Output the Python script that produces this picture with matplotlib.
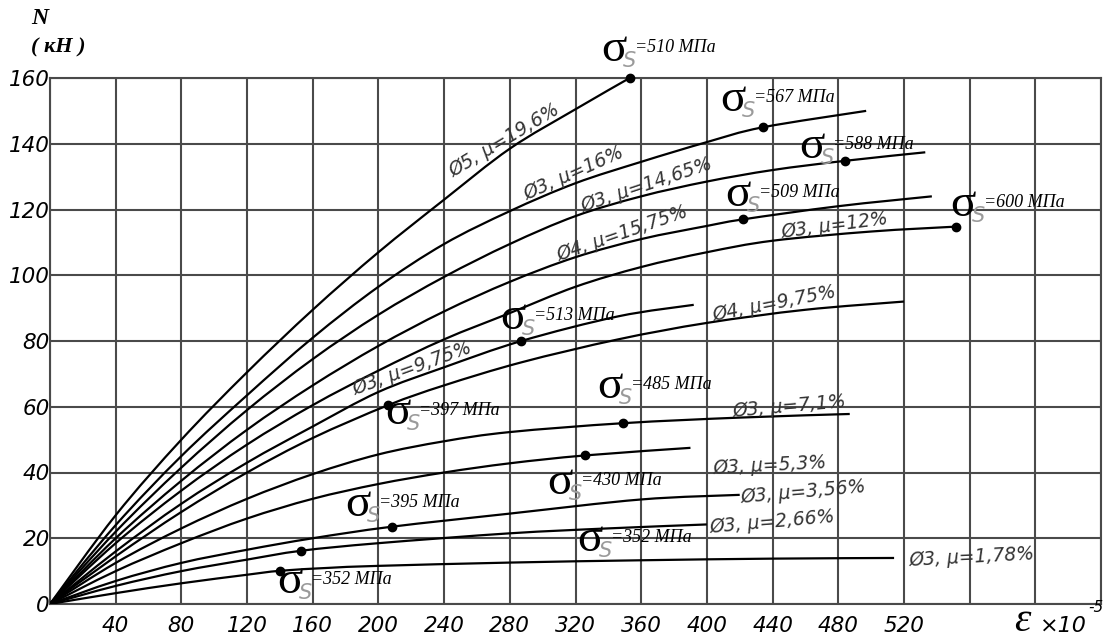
import matplotlib
matplotlib.use('Agg')
import matplotlib.pyplot as plt
from matplotlib.path import Path
from matplotlib.patches import PathPatch
from matplotlib.transforms import offset_copy
import numpy as np

# ---------------------------------------------------------------
# ДАННЫЕ: деформация (x 10^-5) и усилие N (кН) по каждой кривой
# ---------------------------------------------------------------
eps_d5_196 = [0, 40, 80, 120, 160, 200, 240, 280, 320, 353]
n_d5_196 = [0, 27, 50, 70.5, 89.5, 107, 123, 138.5, 150.5, 160]

eps_d3_16 = [0, 40, 80, 120, 160, 200, 240, 280, 320, 360, 400, 434, 497]
n_d3_16 = [0, 24, 45, 63.5, 81, 96.5, 109.5, 119.5, 128, 134.5, 140.5, 145, 150]

eps_d3_1465 = [0, 40, 80, 120, 160, 200, 240, 280, 320, 360, 400, 440, 484, 533]
n_d3_1465 = [0, 22, 41.5, 59, 74.5, 88, 99.5, 109.5, 118, 124, 128.5, 132, 134.8, 137.4]

eps_d4_1575 = [0, 40, 80, 120, 160, 200, 240, 280, 320, 360, 400, 422, 480, 537]
n_d4_1575 = [0, 20, 37.5, 53, 66.5, 78.5, 89, 98, 105.5, 111, 115, 117, 121, 124]

eps_d3_12 = [0, 40, 80, 120, 160, 200, 240, 280, 320, 360, 400, 440, 500, 552]
n_d3_12 = [0, 18.5, 34.5, 48.5, 60.5, 71, 80.5, 88.5, 96.5, 102.5, 107, 110.5, 113.3, 114.8]

eps_d3_975 = [0, 40, 80, 120, 160, 200, 240, 287, 346, 392]
n_d3_975 = [0, 16, 30.5, 43, 54, 64.5, 72, 80, 87.5, 91]

eps_d4_975 = [0, 40, 80, 120, 160, 206, 240, 287, 346, 400, 460, 520]
n_d4_975 = [0, 14.5, 28, 40, 50.5, 60.5, 66.5, 73.5, 80.5, 85.5, 89.5, 92]

eps_d3_71 = [0, 40, 80, 120, 160, 200, 240, 280, 349, 420, 487]
n_d3_71 = [0, 12.5, 23, 32, 39.5, 45.5, 49.5, 52.3, 55, 56.7, 57.8]

eps_d3_53 = [0, 40, 80, 120, 160, 200, 240, 280, 326, 390]
n_d3_53 = [0, 10, 18.5, 26, 32, 36.5, 40, 42.8, 45.2, 47.5]

eps_d3_356 = [0, 40, 80, 120, 160, 208, 280, 360, 420]
n_d3_356 = [0, 7, 12.5, 16.5, 20, 23.5, 27.5, 31.8, 33.2]

eps_d3_266 = [0, 40, 80, 120, 153, 200, 280, 340, 400]
n_d3_266 = [0, 5.5, 10, 13.5, 16.2, 18.5, 21.5, 23, 24.2]

eps_d3_178 = [0, 40, 80, 120, 140, 170, 200, 280, 360, 440, 514]
n_d3_178 = [0, 3.3, 6.3, 8.9, 10.1, 11, 11.6, 12.6, 13.3, 13.8, 14]

# точки предела текучести
sig_eps = [353, 434, 484, 422, 552, 287, 206, 349, 326, 208, 153, 140]
sig_n = [160, 145, 134.8, 117, 114.8, 80, 60.5, 55, 45.2, 23.5, 16.2, 10.1]
sig_val = [510, 567, 588, 509, 600, 513, 397, 485, 430, 395, 352, 352]

curve_names = ['Ø5, μ=19,6%', 'Ø3, μ=16%', 'Ø3, μ=14,65%', 'Ø4, μ=15,75%',
               'Ø3, μ=12%', 'Ø3, μ=9,75%', 'Ø4, μ=9,75%', 'Ø3, μ=7,1%',
               'Ø3, μ=5,3%', 'Ø3, μ=3,56%', 'Ø3, μ=2,66%', 'Ø3, μ=1,78%']

x_ticks = list(range(0, 641, 40))
x_ticklabels = ['' if (t == 0 or t > 520) else str(t) for t in x_ticks]
y_ticks = list(range(0, 161, 20))

curves = [
    (eps_d5_196, n_d5_196), (eps_d3_16, n_d3_16), (eps_d3_1465, n_d3_1465),
    (eps_d4_1575, n_d4_1575), (eps_d3_12, n_d3_12), (eps_d3_975, n_d3_975),
    (eps_d4_975, n_d4_975), (eps_d3_71, n_d3_71), (eps_d3_53, n_d3_53),
    (eps_d3_356, n_d3_356), (eps_d3_266, n_d3_266), (eps_d3_178, n_d3_178),
]

# подписи над кривыми: x центра (пиксели), угол
lbl_on_curve = [(510, 31), (578, 24), (650, 18.5), (626, 19), (836, 7.5),
                (416, 20), (776, 11), (790, 5)]
# подписи справа от концов кривых: центр (пиксели), угол
lbl_free = [(770, 466, 3), (803, 492, 5), (772, 522, 5), (972, 557, 3)]
sig_pos = [(614, 50), (733, 100), (812, 147), (738, 195), (963, 205), (513, 318),
           (398, 413), (610, 387), (560, 483), (358, 505), (590, 540), (290, 582)]

W, H = 1106, 643
X0, X1, Y0, Y1 = 50, 1101, 604, 78   # рамка графика в пикселях


def px2data(px, py):
    return ((px - X0) / (X1 - X0) * 640, (Y0 - py) / (Y0 - Y1) * 160)


def smooth_path(xs, ys):
    # кривые Безье через точки (Catmull-Rom), без новых точек данных
    pts = list(zip(xs, ys))
    verts = [pts[0]]
    codes = [Path.MOVETO]
    for i in range(len(pts) - 1):
        p0 = pts[i - 1] if i > 0 else pts[i]
        p1 = pts[i]
        p2 = pts[i + 1]
        p3 = pts[i + 2] if i + 2 < len(pts) else pts[i + 1]
        c1 = (p1[0] + (p2[0] - p0[0]) / 6, p1[1] + (p2[1] - p0[1]) / 6)
        c2 = (p2[0] - (p3[0] - p1[0]) / 6, p2[1] - (p3[1] - p1[1]) / 6)
        verts += [c1, c2, p2]
        codes += [Path.CURVE4] * 3
    return Path(verts, codes)


fig = plt.figure(figsize=(W / 100, H / 100), dpi=100)
ax = fig.add_axes([X0 / W, (H - Y0) / H, (X1 - X0) / W, (Y0 - Y1) / H])
ax.set_xlim(0, 640)
ax.set_ylim(0, 160)

grid_col = '#4a4a4a'
ax.set_xticks(x_ticks)
ax.set_xticklabels(x_ticklabels)
ax.set_yticks(y_ticks)
ax.grid(True, color=grid_col, linewidth=1.5)
for s in ax.spines.values():
    s.set_color(grid_col)
    s.set_linewidth(1.5)
ax.tick_params(length=0, labelsize=15.5)
ax.tick_params(axis='x', pad=9)
ax.tick_params(axis='y', pad=0)
for t in ax.get_xticklabels() + ax.get_yticklabels():
    t.set_fontstyle('italic')

# --- кривые ---
for ex, ny in curves:
    ax.add_patch(PathPatch(smooth_path(ex, ny), facecolor='none', edgecolor='black',
                           linewidth=1.6, zorder=5))

ax.plot(sig_eps, sig_n, 'o', color='black', markersize=6, zorder=6, clip_on=False)

lbl_style = dict(rotation_mode='anchor', ha='center', va='center', fontsize=13.5,
                 style='italic', color='#333333', zorder=7)

# подписи кривых (над линией)
for name, (ex, ny), (px, rot) in zip(curve_names, curves, lbl_on_curve):
    xd = px2data(px, 0)[0]
    yd = np.interp(xd, ex, ny)
    a = np.radians(rot)
    tr = offset_copy(ax.transData, fig=fig, x=-np.sin(a) * 7, y=np.cos(a) * 7, units='points')
    ax.text(xd, yd, name, transform=tr, rotation=rot, **lbl_style)

for name, (px, py, rot) in zip(curve_names[8:], lbl_free):
    xd, yd = px2data(px, py)
    ax.text(xd, yd, name, rotation=rot, **lbl_style)

# подписи sigma_s
for val, (px, py) in zip(sig_val, sig_pos):
    xd, yd = px2data(px, py)
    ax.text(xd, yd, 'σ', fontsize=34, family='Liberation Serif', ha='center', va='center',
            clip_on=False, zorder=7)
    tr = offset_copy(ax.transData, fig=fig, x=11, y=-8, units='points')
    ax.text(xd, yd, 'S', transform=tr, fontsize=15, style='italic', color='#9a9a9a',
            ha='center', va='center', zorder=7)
    tr2 = offset_copy(ax.transData, fig=fig, x=15, y=2, units='points')
    ax.text(xd, yd, f'={val} МПа', transform=tr2, fontsize=13, family='Liberation Serif',
            style='italic', ha='left', va='center', zorder=7)

# подписи осей
fig.text(40 / W, 1 - 18 / H, 'N', fontsize=17, family='Liberation Serif', style='italic',
         weight='bold', ha='center', va='center')
fig.text(58 / W, 1 - 47 / H, '( кН )', fontsize=16, family='Liberation Serif', style='italic',
         weight='bold', ha='center', va='center')
fig.text(1022 / W, 1 - 621 / H, 'ε', fontsize=30, family='Liberation Serif', style='italic',
         ha='center', va='center')
fig.text(1040 / W, 1 - 626 / H, '×10', fontsize=16, style='italic', ha='left', va='center')
fig.text(1088 / W, 1 - 607 / H, '-5', fontsize=11, style='italic', ha='left', va='center')

plt.savefig('out.png', dpi=100)
plt.close()
